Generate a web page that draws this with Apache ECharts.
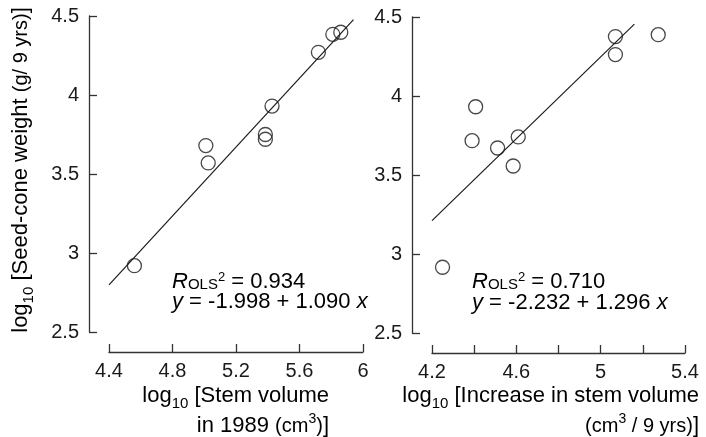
<!DOCTYPE html>
<html><head><meta charset="utf-8">
<script src="https://cdn.jsdelivr.net/npm/echarts@6/dist/echarts.min.js"></script>
<style>html,body{margin:0;padding:0;background:#fff;overflow:hidden}#c{width:706px;height:437px}</style>
</head><body><div id="c"></div>
<script>
// Left panel: log10 stem volume in 1989 vs log10 seed-cone weight
const stemVolume1989 = [4.56, 5.01, 5.025, 5.385, 5.385, 5.427, 5.719, 5.81, 5.86];
const seedConeLeft   = [2.92, 3.68, 3.57, 3.75, 3.72, 3.93, 4.27, 4.384, 4.397];
// Right panel: log10 increase in stem volume vs log10 seed-cone weight
const stemIncrease   = [4.25, 4.39, 4.407, 4.511, 4.585, 4.609, 5.07, 5.07, 5.273];
const seedConeRight  = [2.916, 3.717, 3.932, 3.671, 3.557, 3.741, 4.376, 4.262, 4.388];
// OLS fit line end points (as drawn)
const fitLeftX  = [4.40, 5.94];
const fitLeftY  = [2.798, 4.477];
const fitRightX = [4.20, 5.16];
const fitRightY = [3.211, 4.455];
// Tick labels
const yLabels      = ['2.5', '3', '3.5', '4', '4.5'];
const leftXLabels  = ['4.4', '4.8', '5.2', '5.6', '6'];
const rightXLabels = ['4.2', '4.6', '5', '5.4'];

const FONT = "'Liberation Sans', Arial, Helvetica, sans-serif";
const INK = '#1a1a1a';
const AX = '#333';

function pairs(xs, ys) { return xs.map((x, i) => [x, ys[i]]); }
function fmt(labels) {
  return v => { const s = String(+(+v).toFixed(2)); return labels.includes(s) ? s : ''; };
}
function xAxis(grid, min, max, interval, labels) {
  return {
    type: 'value', gridIndex: grid, min, max, interval, offset: 20,
    axisLine: { show: true, onZero: false, lineStyle: { color: AX, width: 1.3 } },
    axisTick: { show: true, inside: true, length: 8, lineStyle: { color: AX, width: 1.3 } },
    axisLabel: { show: true, fontSize: 20, color: INK, fontFamily: FONT, margin: 9,
                 showMinLabel: true, showMaxLabel: true, formatter: fmt(labels) },
    splitLine: { show: false }
  };
}
function yAxis(grid) {
  return {
    type: 'value', gridIndex: grid, min: 2.5, max: 4.5, interval: 0.5, offset: 20,
    axisLine: { show: true, onZero: false, lineStyle: { color: AX, width: 1.3 } },
    axisTick: { show: true, inside: true, length: 8, lineStyle: { color: AX, width: 1.3 } },
    axisLabel: { show: true, fontSize: 20, color: INK, fontFamily: FONT, margin: 10,
                 showMinLabel: true, showMaxLabel: true, formatter: fmt(yLabels) },
    splitLine: { show: false }
  };
}
function scatter(i, xs, ys) {
  return { type: 'scatter', xAxisIndex: i, yAxisIndex: i, data: pairs(xs, ys),
    symbol: 'circle', symbolSize: 14, silent: true,
    itemStyle: { color: 'rgba(0,0,0,0)', borderColor: INK, borderWidth: 1.3 } };
}
function fit(i, xs, ys) {
  return { type: 'line', xAxisIndex: i, yAxisIndex: i, data: pairs(xs, ys),
    symbol: 'none', silent: true, lineStyle: { color: INK, width: 1.2 } };
}

const rich = {
  m:   { fontSize: 22, fontFamily: FONT, color: INK, lineHeight: 30 },
  s:   { fontSize: 15, fontFamily: FONT, color: INK, lineHeight: 15, height: 15, verticalAlign: 'bottom' },
  p:   { fontSize: 20, fontFamily: FONT, color: INK, lineHeight: 30, verticalAlign: 'middle' },
  sup: { fontSize: 14, fontFamily: FONT, color: INK, lineHeight: 17, height: 17, verticalAlign: 'top' }
};
const richAnn = {
  m:   { fontSize: 22, fontFamily: FONT, color: INK, lineHeight: 22 },
  i:   { fontSize: 22, fontFamily: FONT, color: INK, lineHeight: 22, fontStyle: 'italic' },
  sc:  { fontSize: 15, fontFamily: FONT, color: INK, lineHeight: 17, height: 17, verticalAlign: 'bottom' },
  sup: { fontSize: 13, fontFamily: FONT, color: INK, lineHeight: 13, height: 13, verticalAlign: 'top' }
};
function txt(x, y, text, align, r, vAlign, rotation) {
  return { type: 'text', x, y, rotation: rotation || 0, silent: true,
    style: { text, rich: r, align, verticalAlign: vAlign || 'top' } };
}

const chart = echarts.init(document.getElementById('c'), null, { renderer: 'canvas' });
chart.setOption({
  animation: false,
  backgroundColor: '#fff',
  grid: [
    { left: 109, top: 16, width: 254, height: 316 },
    { left: 432, top: 17, width: 253, height: 316 }
  ],
  xAxis: [ xAxis(0, 4.4, 6.0, 0.4, leftXLabels), xAxis(1, 4.2, 5.4, 0.2, rightXLabels) ],
  yAxis: [ yAxis(0), yAxis(1) ],
  series: [
    fit(0, fitLeftX, fitLeftY), scatter(0, stemVolume1989, seedConeLeft),
    fit(1, fitRightX, fitRightY), scatter(1, stemIncrease, seedConeRight)
  ],
  graphic: [
    txt(21, 170, '{m|log}{s|10}{m| [Seed-cone weight }{p|(g/ 9 yrs)}{m|]}', 'center', rich, 'middle', Math.PI / 2),
    txt(329, 381, '{m|log}{s|10}{m| [Stem volume}', 'right', rich),
    txt(329, 411, '{m|in 1989 }{p|(cm}{sup|3}{p|)}{m|]}', 'right', rich),
    txt(699, 381, '{m|log}{s|10}{m| [Increase in stem volume}', 'right', rich),
    txt(699, 411, '{p|(cm}{sup|3}{p| / 9 yrs)}{m|]}', 'right', rich),
    txt(172, 271, '{i|R}{sc|OLS}{sup|2}{m| = 0.934}', 'left', richAnn),
    txt(172, 291, '{i|y}{m| = -1.998 + 1.090 }{i|x}', 'left', richAnn),
    txt(472, 271, '{i|R}{sc|OLS}{sup|2}{m| = 0.710}', 'left', richAnn),
    txt(472, 292, '{i|y}{m| = -2.232 + 1.296 }{i|x}', 'left', richAnn)
  ]
});
</script></body></html>
